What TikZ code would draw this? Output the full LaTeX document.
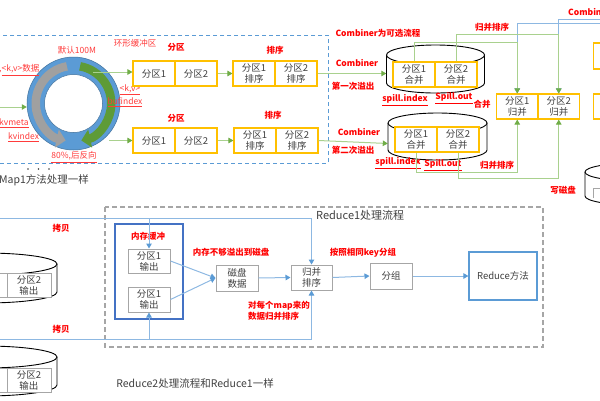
\documentclass[tikz,border=0pt]{standalone}
\usepackage{fontspec}
\setmainfont{Noto Sans CJK SC}
\usetikzlibrary{arrows.meta}
\definecolor{ylw}{HTML}{FFC000}
\definecolor{gln}{HTML}{A9D18E}
\definecolor{gar}{HTML}{70AD47}
\definecolor{bln}{HTML}{8DB8E2}
\definecolor{bar}{HTML}{5B9BD5}
\definecolor{lblue}{HTML}{5B9BD5}
\definecolor{dblue}{HTML}{4472C4}
\definecolor{gbx}{HTML}{A6A6A6}
\definecolor{rd}{HTML}{FF0000}
\definecolor{rdl}{HTML}{FF3B3B}
\definecolor{ringc}{HTML}{5B9BD5}
\definecolor{ringd}{HTML}{41719C}
\definecolor{txt}{HTML}{404040}
\definecolor{garc}{HTML}{A0A0A0}
\definecolor{grarc}{HTML}{5E9B37}
\begin{document}
\begin{tikzpicture}[x=1pt,y=-1pt,
  ybox/.style={draw=ylw, line width=1.1pt, fill=white, inner sep=0pt, minimum height=25pt, text=txt, font=\fontsize{9.5}{11}\selectfont, align=center},
  gboxs/.style={draw=gbx, line width=1pt, fill=white, inner sep=0pt, text=txt, font=\fontsize{9.5}{11}\selectfont, align=center},
  rb/.style={text=rd, font=\bfseries\fontsize{8.5}{10.5}\selectfont, inner sep=0pt},
  rl/.style={text=rdl, font=\fontsize{8.5}{10}\selectfont, inner sep=0pt},
  blk/.style={text=txt, font=\fontsize{10.5}{12}\selectfont, inner sep=0pt},
  gline/.style={draw=gln, line width=1pt},
  garr/.style={gline, -{Triangle[length=5pt,width=5.5pt,color=gar]}},
  bline/.style={draw=bln, line width=1pt},
  barr/.style={bline, -{Triangle[length=5pt,width=5.5pt,color=bar]}},
  cyl/.style={draw=black, line width=0.9pt, fill=white},
]
\useasboundingbox (0,0) rectangle (600,400);
\clip (0,0) rectangle (600,400);

% ---------- Map side ----------
\draw[lblue, line width=1pt, dash pattern=on 4pt off 3pt] (-5,35) rectangle (328,163);

\node[circle, inner sep=0pt, minimum size=93pt, fill=ringc, draw=ringd, line width=0.5pt] (ring) at (73.5,103.5) {};
\node[circle, inner sep=0pt, minimum size=58pt, fill=white, draw=ringd, line width=0.5pt] (hole) at (ring.center) {};
\draw[line width=8.5pt, draw=garc, -{Triangle[length=9pt,width=18pt]}] ([shift={(ring.center)}]100:37.75pt) arc[start angle=100, end angle=258, radius=37.75pt];
\draw[line width=8.5pt, draw=grarc, -{Triangle[length=9pt,width=18pt]}] ([shift={(ring.center)}]80:37.75pt) arc[start angle=80, end angle=-78, radius=37.75pt];

\node[rl] (l100) at (77,50) {默认100M};
\node[rl] (lhuan) at (135,43) {环形缓冲区};
\node[rl, anchor=west] (lkv) at (-1,70) {,\underline{<k,v>数据}};
\node[rl, anchor=west] (lmeta) at (-1,123) {\underline{kvmeta}};
\node[rl, anchor=west] (lidx) at (8,137) {\underline{kvindex}};
\node[rl] (lkv2) at (130,90) {\underline{<k,v>}};
\node[rl] (lbuf) at (125,102) {\underline{bufindex}};
\node[rl] (l80) at (74,157) {\underline{80\%,后反向}};

\node[blk, anchor=west] (map1) at (-1,180) {Map1方法处理一样};
\fill[txt] (28,169) circle[radius=0.9pt] (38.5,169) circle[radius=0.9pt] (49,169) circle[radius=0.9pt];

\node[ybox, minimum width=42pt] (pa1) at (154,73.5) {分区1};
\node[ybox, minimum width=42pt] (pa2) at (196,73.5) {分区2};
\node[ybox, minimum width=42pt] (pb1) at (154,140.5) {分区1};
\node[ybox, minimum width=42pt] (pb2) at (196,140.5) {分区2};
\node[rb] (lfq1) at (176,47) {分区};
\node[rb] (lfq2) at (176,118) {分区};

\coordinate (lin) at (0,107);
\draw[garr] (lin) -- (lin -| ring.west);
\coordinate (gtop) at (93,72);
\draw[garr] (gtop) -- (gtop -| pa1.west);
\coordinate (gbot) at (109,140.5);
\draw[garr] (gbot) -- (pb1.west);

\node[ybox, minimum width=42pt] (sa1) at (254,73.5) {分区1\\排序};
\node[ybox, minimum width=42pt] (sa2) at (296,73.5) {分区2\\排序};
\node[ybox, minimum width=42pt] (sb1) at (255,140.5) {分区1\\排序};
\node[ybox, minimum width=42pt] (sb2) at (297,140.5) {分区2\\排序};
\node[rb] (lpx1) at (275,50) {排序};
\node[rb] (lpx2) at (273,115) {排序};
\draw[garr] (pa2.east) -- (sa1.west);
\draw[garr] (pb2.east) -- (sb1.west);

% cylinders
\draw[cyl] (386.5,55) -- (386.5,83) arc[start angle=180, end angle=360, x radius=49pt, y radius=10pt] -- (484.5,55);
\draw[cyl] (435.5,55) ellipse[x radius=49pt, y radius=10pt];
\node[inner sep=0pt, minimum width=98pt, minimum height=48pt] (cyl1) at (435.5,69) {};
\draw[cyl] (388,123) -- (388,150) arc[start angle=180, end angle=360, x radius=49.5pt, y radius=10pt] -- (487,123);
\draw[cyl] (437.5,123) ellipse[x radius=49.5pt, y radius=10pt];
\node[inner sep=0pt, minimum width=99pt, minimum height=47pt] (cyl2) at (437.5,136.5) {};

\node[ybox, minimum width=42pt] (ca1) at (414,74.5) {分区1\\合并};
\node[ybox, minimum width=42pt] (ca2) at (456,74.5) {分区2\\合并};
\node[ybox, minimum width=42pt] (cb1) at (416,139.5) {分区1\\合并};
\node[ybox, minimum width=42pt] (cb2) at (458,139.5) {分区2\\合并};

\draw[garr] (sa2.east) -- (sa2.east -| cyl1.west);
\draw[garr] (sb2.east) -- ([yshift=-3pt]sb2.east -| cyl2.west);

\node[rb] (lc1) at (357,63) {Combiner};
\node[rb] (ly1) at (353,86) {第一次溢出};
\node[rb] (lc2) at (359,132) {Combiner};
\node[rb] (ly2) at (353,150) {第二次溢出};
\node[rb] (lcopt) at (378,33) {Combiner为可选流程};
\node[rb] (lsi1) at (405,100) {\underline{spill.index}};
\node[rb] (lso1) at (454,98) {\underline{Spill.out}};
\node[rb] (lhb) at (482,104) {合并};
\node[rb] (lsi2) at (398,163) {\underline{spill.index}};
\node[rb] (lso2) at (443,165) {\underline{Spill.out}};
\node[rb] (lgb2) at (497,165) {归并排序};
\node[rb] (lgb1) at (492,27) {归并排序};
\node[rb] (lxcp) at (563,190) {写磁盘};
\node[rb, anchor=west] (lc3) at (568,12) {Combiner};

\node[ybox, minimum width=41.5pt] (m1) at (517.25,106.5) {分区1\\归并};
\node[ybox, minimum width=41.5pt] (m2) at (558.75,106.5) {分区2\\归并};

\coordinate (rA) at (600,23);
\coordinate (rB) at (600,19);
\draw[barr] (rA) -| (m1.north);
\draw[barr] (rB) -| (m2.north);
\coordinate (yg1) at (0,42);
\coordinate (yg2) at (0,34);
\coordinate (yg3) at (0,172);
\coordinate (yg4) at (0,178);
\draw[garr] (ca1.north) -- (ca1.north |- yg1) -| (m1.north);
\draw[garr] (ca2.north) -- (ca2.north |- yg2) -| (m2.north);
\draw[garr] (cb1.south) -- (cb1.south |- yg3) -| (m1.south);
\draw[garr] (cb2.south) -- (cb2.south |- yg4) -| (m2.south);

% partial items at right edge
\node[ybox, minimum width=42pt, minimum height=26pt, anchor=west] (rx1) at (593,56) {};
\node[ybox, minimum width=42pt, anchor=west] (rx2) at (593,106.5) {};
\draw[cyl] (585,172) -- (585,196) arc[start angle=180, end angle=360, x radius=50pt, y radius=9pt] -- (685,172);
\draw[cyl] (635,172) ellipse[x radius=50pt, y radius=9pt];
\draw[gbx, line width=1pt] (593,198) -- (593,188) -- (640,188);

% ---------- Reduce side ----------
\draw[gbx, line width=1.6pt, dash pattern=on 5pt off 3pt] (105,207) rectangle (543,347);
\node[blk, anchor=west, font=\fontsize{11}{13}\selectfont] (lr1) at (316,215) {Reduce1处理流程};

\node[draw=dblue, line width=1.2pt, inner sep=0pt, minimum width=68pt, minimum height=95pt] (buf) at (149,271.5) {};
\node[rb] (lbuf2) at (148,236) {内存缓冲};
\node[gboxs, minimum width=42pt, minimum height=24pt] (o1) at (149,261) {分区1\\输出};
\node[gboxs, minimum width=42pt, minimum height=25pt] (o2) at (149,299.5) {分区1\\输出};
\node[gboxs, minimum width=42pt, minimum height=26pt] (disk) at (237,278) {磁盘\\数据};
\node[gboxs, minimum width=41pt, minimum height=25pt] (ms) at (311.5,277.5) {归并\\排序};
\node[gboxs, minimum width=42pt, minimum height=26pt] (grp) at (391,276) {分组};
\node[draw=lblue, line width=1.2pt, fill=white, inner sep=0pt, minimum width=68pt, minimum height=48pt, text=txt, font=\fontsize{9.5}{11}\selectfont] (red) at (503,276) {Reduce方法};

\coordinate (ct) at (0,218);
\coordinate (cb) at (0,339);
\draw[barr] (ct) -| (ms.north);
\draw[barr] (o1.north |- ct) -- (o1.north);
\draw[barr] (cb) -| (ms.south);
\draw[barr] (o2.south |- cb) -- (o2.south);
\draw[barr] (o1.east) -- (disk.west);
\draw[barr] (o2.east) -- (disk.west);
\draw[barr] (disk.east) -- (ms.west);
\draw[barr] (ms.east) -- (grp.west);
\draw[barr] (grp.east) -- (red.west);

\node[rb] (lkb1) at (61,228) {拷贝};
\node[rb] (lkb2) at (61,329) {拷贝};
\node[rb] (lyc) at (231,252) {内存不够溢出到磁盘};
\node[rb] (lkey) at (363,253) {按照相同key分组};
\node[rb, anchor=west, align=left] (lmap) at (248,311) {对每个map来的\\数据归并排序};
\node[blk] (lr2) at (195,383) {Reduce2处理流程和Reduce1一样};

% left cylinders
\draw[cyl] (-87,264) -- (-87,292) arc[start angle=180, end angle=360, x radius=72pt, y radius=11pt] -- (57,264);
\draw[cyl] (-15,264) ellipse[x radius=72pt, y radius=11pt];
\node[gboxs, minimum width=44pt, minimum height=24pt] (lo0) at (-15,285) {};
\node[gboxs, minimum width=44pt, minimum height=24pt] (lo1) at (29,285) {分区2\\输出};
\draw[cyl] (-87,357) -- (-87,385) arc[start angle=180, end angle=360, x radius=72pt, y radius=11pt] -- (57,357);
\draw[cyl] (-15,357) ellipse[x radius=72pt, y radius=11pt];
\node[gboxs, minimum width=44pt, minimum height=24pt] (lo2) at (-15,380) {};
\node[gboxs, minimum width=44pt, minimum height=24pt] (lo3) at (29,380) {分区2\\输出};
\end{tikzpicture}
\end{document}
